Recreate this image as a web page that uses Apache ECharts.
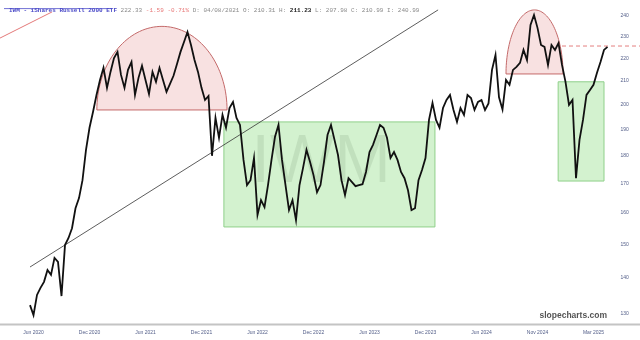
<!DOCTYPE html>
<html><head><meta charset="utf-8">
<script src="https://cdn.jsdelivr.net/npm/echarts@6/dist/echarts.min.js"></script>
<style>html,body{margin:0;padding:0;background:#fff}#c{width:640px;height:340px}</style>
</head><body><div id="c"></div>
<script>
// x-axis tick labels and the sample index where each sits
const tickLabels = ["Jun 2020","Dec 2020","Jun 2021","Dec 2021","Jun 2022","Dec 2022","Jun 2023","Dec 2023","Jun 2024","Nov 2024","Mar 2025"];
const tickIndex = [1,17,33,49,65,81,97,113,129,145,161];
// y-axis (log) tick values
const yTicks = [130,140,150,160,170,180,190,200,210,220,230,240];
// IWM price samples
const prices = [
132.4,129.7,135.2,137.2,138.9,142.3,140.9,145.9,144.7,134.9,
149.8,152.0,155.1,161.6,165.0,171.2,182.2,190.7,197.0,204.0,
210.4,215.7,207.0,213.9,220.1,222.9,212.6,207.0,214.8,218.3,
204.0,211.3,216.6,210.4,204.4,213.9,209.6,215.7,210.4,205.3,
208.7,212.2,217.4,222.9,227.5,232.2,226.1,219.2,213.9,207.0,
201.9,203.6,180.0,194.6,186.8,195.8,190.7,198.6,201.1,194.6,
191.8,178.5,169.5,171.2,179.2,159.4,164.3,162.0,169.5,178.5,
187.2,191.8,178.5,169.5,161.0,164.3,157.7,169.5,175.5,182.2,
177.8,173.0,167.0,169.5,177.8,187.9,191.8,186.0,180.3,171.2,
166.0,171.9,170.5,169.1,169.5,169.8,174.1,181.4,184.1,187.9,
191.8,190.7,186.8,179.2,181.4,178.5,174.1,171.9,167.7,161.0,
161.6,171.2,174.8,179.2,193.8,200.7,193.8,190.7,198.6,201.9,
204.0,197.8,193.0,198.6,195.8,204.0,202.7,197.8,201.1,201.9,
197.8,200.5,214.8,221.5,203.0,198.0,210.4,208.3,214.8,216.1,
217.9,223.8,219.2,235.6,240.5,234.2,226.1,225.2,217.0,226.1,
223.8,227.0,217.0,209.6,199.9,201.9,171.9,186.0,193.8,204.0,
206.1,208.3,213.5,218.3,223.8,225.2];
// annotations: [startIndex, endIndex, basePrice, topPrice]
const domes = [[19.1,56.3,197.8,234.9],[136,152.3,213.0,243.0]];
// [startIndex, endIndex, lowPrice, highPrice]
const boxes = [[55.4,115.7,155.5,193.0],[150.9,164.0,170.9,209.6]];
// [startIndex, endIndex, startPrice, endPrice]
const trendLine = [[0,116.6,143.2,243.0]];
const redLine = [[-8.6,6.3,229.3,242.0]];
const resistance = [[152,174.4,225.6,225.6]];

const chart = echarts.init(document.getElementById('c'), null, {renderer:'canvas'});

function lineItem(color, width, dash){
  return function(params, api){
    const a = api.coord([api.value(0), api.value(2)]);
    const b = api.coord([api.value(1), api.value(3)]);
    return {type:'line', shape:{x1:a[0],y1:a[1],x2:b[0],y2:b[1]},
      style:{stroke:color, lineWidth:width, lineDash:dash||null, fill:null}};
  };
}
function domeItem(params, api){
  const p1 = api.coord([api.value(0), api.value(2)]);
  const p2 = api.coord([api.value(1), api.value(2)]);
  const pt = api.coord([api.value(0), api.value(3)]);
  const cx = (p1[0]+p2[0])/2, rx = (p2[0]-p1[0])/2, yb = p1[1], ry = yb - pt[1];
  const pts = [];
  for (let k=0;k<=72;k++){ const t=Math.PI*k/72; pts.push([cx - rx*Math.cos(t), yb - ry*Math.sin(t)]); }
  return {type:'polygon', shape:{points:pts},
    style:{fill:'rgba(222,120,120,0.22)', stroke:'#c46a6a', lineWidth:1}};
}
function boxItem(params, api){
  const a = api.coord([api.value(0), api.value(3)]);
  const b = api.coord([api.value(1), api.value(2)]);
  return {type:'rect', shape:{x:a[0], y:a[1], width:b[0]-a[0], height:b[1]-a[1]},
    style:{fill:'rgba(140,220,130,0.38)', stroke:'#8fd08a', lineWidth:1}};
}

const ff = 'Liberation Mono';
chart.setOption({
  animation:false,
  backgroundColor:'#fff',
  title:{
    left:4, top:2,
    text:'{a|IWM - iShares Russell 2000 ETF} {g|222.33} {r|-1.59 -0.71%} {g|D: 04/08/2021 O: 210.31 H:} {k|211.23} {g|L: 207.98 C: 210.99 I: 240.99}',
    textStyle:{fontFamily:ff, fontSize:6, fontWeight:'normal',
      rich:{
        a:{fontFamily:ff, fontSize:6, color:'#4b4bc8', fontWeight:'bold'},
        g:{fontFamily:ff, fontSize:6, color:'#8a8a8a'},
        r:{fontFamily:ff, fontSize:6, color:'#e87878'},
        k:{fontFamily:ff, fontSize:6, color:'#222', fontWeight:'bold'}
      }}
  },
  grid:{left:30, right:32.5, top:0, bottom:15, containLabel:false, outerBoundsMode:'none'},
  xAxis:{
    type:'value', min:0, max:165,
    axisLine:{show:false}, axisTick:{show:false}, splitLine:{show:false},
    axisLabel:{customValues:tickIndex, margin:5, fontSize:5, color:'#55608a', fontFamily:'Liberation Sans',
      formatter:function(v){ const k = tickIndex.indexOf(Math.round(v)); return k>=0 ? tickLabels[k] : ''; }}
  },
  yAxis:{
    type:'log', logBase:10, position:'right', min:127.1, max:248,
    axisLine:{show:false}, axisTick:{show:false}, splitLine:{show:false},
    axisLabel:{customValues:yTicks, margin:13, fontSize:5, color:'#55608a', fontFamily:'Liberation Sans',
      formatter:function(v){ return String(Math.round(v)); }}
  },
  graphic:[
    {type:'text', z:1, x:321, y:163,
      style:{text:'IWM', align:'center', verticalAlign:'middle',
        font:'68px "Liberation Sans"', fill:'rgba(0,0,0,0.11)'}, silent:true},
    {type:'rect', z:1, shape:{x:0, y:323.5, width:640, height:2}, style:{fill:'#c4c4c4'}, silent:true},
    {type:'line', z:10, shape:{x1:4, y1:8.6, x2:112, y2:8.6}, style:{stroke:'#4b4bc8', lineWidth:0.8}, silent:true},
    {type:'text', z:10, x:607, y:315.5, style:{text:'slopecharts.com', align:'right', verticalAlign:'middle',
      font:'bold 8.5px "Liberation Sans"', fill:'#555'}, silent:true}
  ],
  series:[
    {type:'custom', name:'domes', renderItem:domeItem, data:domes, encode:{x:[0,1], y:[2,3]}, clip:false, silent:true, z:2},
    {type:'custom', name:'boxes', renderItem:boxItem, data:boxes, encode:{x:[0,1], y:[2,3]}, clip:false, silent:true, z:2},
    {type:'custom', name:'trend', renderItem:lineItem('#333',0.8), data:trendLine, encode:{x:[0,1], y:[2,3]}, clip:false, silent:true, z:3},
    {type:'custom', name:'red', renderItem:lineItem('#e06a6a',0.9), data:redLine, encode:{x:[0,1], y:[2,3]}, clip:false, silent:true, z:3},
    {type:'custom', name:'res', renderItem:lineItem('#e07070',0.9,[4,3]), data:resistance, encode:{x:[0,1], y:[2,3]}, clip:false, silent:true, z:3},
    {type:'line', name:'IWM', data:prices.map(function(p,i){return [i,p];}), showSymbol:false, symbol:'none',
      lineStyle:{color:'#111', width:1.8, join:'miter'}, z:5, silent:true}
  ]
});
</script>
</body></html>
